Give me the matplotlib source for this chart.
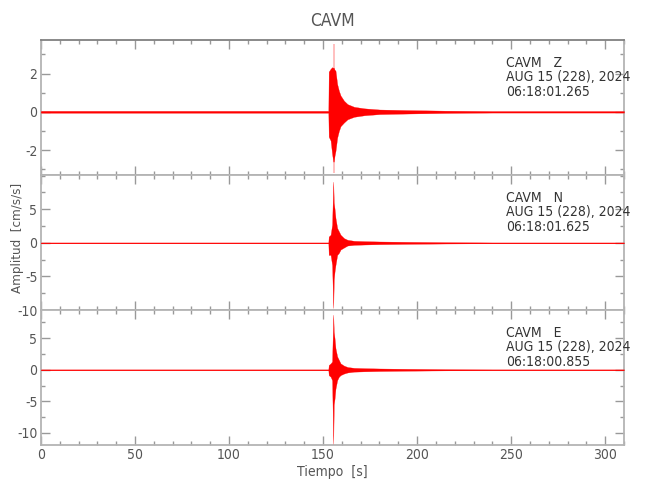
"""Three-component acceleration record for station CAVM."""

import matplotlib
matplotlib.use("Agg")
import matplotlib.pyplot as plt
from matplotlib.ticker import FixedLocator, MultipleLocator

plt.rcParams["font.family"] = ["DejaVu Sans"]
plt.rcParams["font.stretch"] = "condensed"
plt.rcParams["axes.unicode_minus"] = False

# envelope of each trace (time in s, amplitude in cm/s/s)
TIMES = [0, 152.8, 153.0, 154.0, 154.8, 155.4, 155.7, 156.1, 156.6, 157.5,
         158.4, 159.3, 161.1, 163.0, 166.5, 172, 180, 195, 215, 240, 310]

Z_UPPER = [0.05, 0.05, 2.1, 2.25, 2.33, 2.3, 2.3, 2.2, 2.15, 1.45,
           1.1, 0.85, 0.58, 0.4, 0.26, 0.18, 0.12, 0.09, 0.06, 0.04, 0.04]
Z_LOWER = [-0.05, -0.05, -1.3, -1.5, -2.2, -2.6, -2.6, -2.3, -2.05, -1.35,
           -1.0, -0.75, -0.56, -0.39, -0.26, -0.18, -0.12, -0.09, -0.06, -0.04, -0.04]
Z_SPIKE = (155.7, -3.2, 3.55)

N_UPPER = [0.06, 0.06, 0.94, 1.2, 2.7, 9.1, 6.0, 5.1, 3.7, 2.2,
           1.7, 1.2, 0.7, 0.45, 0.3, 0.25, 0.2, 0.15, 0.1, 0.06, 0.06]
N_LOWER = [-0.06, -0.06, -1.8, -1.8, -3.3, -9.7, -5.5, -4.3, -3.3, -1.8,
           -1.5, -1.0, -0.7, -0.4, -0.3, -0.25, -0.2, -0.15, -0.1, -0.06, -0.06]

E_UPPER = [0.06, 0.06, 0.75, 1.0, 1.3, 8.7, 6.0, 5.0, 3.4, 2.1,
           1.55, 1.0, 0.65, 0.43, 0.3, 0.25, 0.2, 0.15, 0.1, 0.06, 0.06]
E_LOWER = [-0.06, -0.06, -0.85, -1.1, -1.65, -11.7, -5.5, -4.6, -3.0, -1.65,
           -1.1, -0.85, -0.6, -0.43, -0.3, -0.25, -0.2, -0.15, -0.1, -0.06, -0.06]

COMPONENTS = ["Z", "N", "E"]
START_TIMES = ["06:18:01.265", "06:18:01.625", "06:18:00.855"]
DATE_LABEL = "AUG 15 (228), 2024"
STATION = "CAVM"

Y_LIMITS = [(-3.3, 3.75), (-10.0, 10.1), (-11.9, 9.45)]
Y_MAJOR = [[-2, 0, 2], [-10, -5, 0, 5], [-10, -5, 0, 5]]
Y_MINOR = [1, 2.5, 2.5]

SPINE_GRAY = "#b4b4b4"
TEXT_GRAY = "#555555"

fig = plt.figure(figsize=(6.5, 5), dpi=100)
axes = fig.subplots(3, 1, sharex=True)
fig.subplots_adjust(left=0.063, right=0.96, top=0.92, bottom=0.11, hspace=0)

envelopes = [(Z_UPPER, Z_LOWER), (N_UPPER, N_LOWER), (E_UPPER, E_LOWER)]

for i, ax in enumerate(axes):
    upper, lower = envelopes[i]
    ax.fill_between(TIMES, lower, upper, color="red", linewidth=0.2, zorder=3)
    ax.plot(TIMES, [0] * len(TIMES), color="red", linewidth=0.5, zorder=3)
    if i == 0:
        t_s, lo_s, hi_s = Z_SPIKE
        ax.vlines(t_s, lo_s, hi_s, color="#ffb4b4", linewidth=1.2, zorder=2)

    ax.set_xlim(0, 310)
    ax.set_ylim(*Y_LIMITS[i])
    ax.yaxis.set_major_locator(FixedLocator(Y_MAJOR[i]))
    ax.yaxis.set_minor_locator(MultipleLocator(Y_MINOR[i]))
    ax.xaxis.set_major_locator(MultipleLocator(50))
    ax.xaxis.set_minor_locator(MultipleLocator(10))

    ax.tick_params(which="both", direction="in", top=True, right=True,
                   color="#999999", labelcolor=TEXT_GRAY, labelsize=10,
                   width=1, pad=2.5)
    ax.tick_params(which="major", length=6.5)
    ax.tick_params(which="minor", length=3.2)
    for side in ax.spines.values():
        side.set_color(SPINE_GRAY)
        side.set_linewidth(1.3)

    ax.text(0.797, 0.885,
            f"{STATION}   {COMPONENTS[i]}\n{DATE_LABEL}\n{START_TIMES[i]}",
            transform=ax.transAxes, ha="left", va="top", fontsize=10,
            color="#333333", linespacing=1.05)

axes[0].spines["top"].set_color("#808080")

axes[2].set_xlabel("Tiempo  [s]", color=TEXT_GRAY, fontsize=10, labelpad=2)
fig.text(0.027, 0.525, "Amplitud  [cm/s/s]", rotation=90, ha="center",
         va="center", color=TEXT_GRAY, fontsize=9.5)
fig.suptitle(STATION, x=0.512, y=0.975, fontsize=12.5, color=TEXT_GRAY)

plt.savefig("out.png", dpi=100)
plt.close()
